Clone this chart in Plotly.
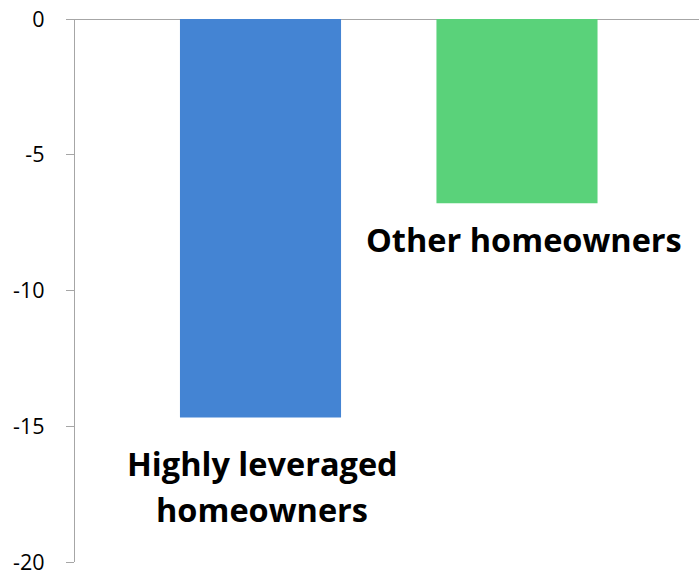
import plotly.graph_objects as go

categories = ["Highly leveraged<br>homeowners", "Other homeowners"]
values = [-14.68, -6.79]
colors = ["#4484D3", "#5AD27A"]
tick_vals = [0, -5, -10, -15, -20]
tick_text = ["0", "-5", "-10", "-15", "-20"]

x_pos = list(range(len(categories)))

fig = go.Figure()
fig.add_trace(go.Bar(
    x=x_pos, y=values, marker_color=colors, width=0.628,
    marker_line_width=0, showlegend=False, hoverinfo="skip",
))

# label placement (data coords): one y per text line
label_x = [0.006, 1.029]
label_lines_y = [[-16.37, -18.08], [-8.11]]
for i, c in enumerate(categories):
    for line, yy in zip(c.split("<br>"), label_lines_y[i]):
        fig.add_annotation(
            x=label_x[i], y=yy, text="<b>" + line + "</b>", showarrow=False,
            xref="x", yref="y", yanchor="middle",
            font=dict(family="Open Sans, DejaVu Sans, sans-serif", size=32.5, color="#000"),
            align="center",
        )

fig.update_layout(
    width=699, height=573,
    margin=dict(l=75, r=0, t=19, b=11),
    paper_bgcolor="white", plot_bgcolor="white",
    xaxis=dict(range=[-0.7232, 1.7096], showticklabels=False, showgrid=False,
               zeroline=False, showline=False, ticks="", automargin=False),
    yaxis=dict(range=[-20, 0], tickvals=tick_vals, ticktext=tick_text,
               showgrid=False, zeroline=True, zerolinecolor="#A6A6A6", zerolinewidth=1.3,
               showline=True, linecolor="#A6A6A6", linewidth=1.3,
               ticks="outside", ticklen=8, tickcolor="#A6A6A6", tickwidth=1.3,
               ticklabelstandoff=17, ticklabeloverflow="allow", automargin=False,
               tickfont=dict(family="Open Sans, DejaVu Sans, sans-serif", size=21.5, color="#000")),
)

fig.write_html("out.html")
